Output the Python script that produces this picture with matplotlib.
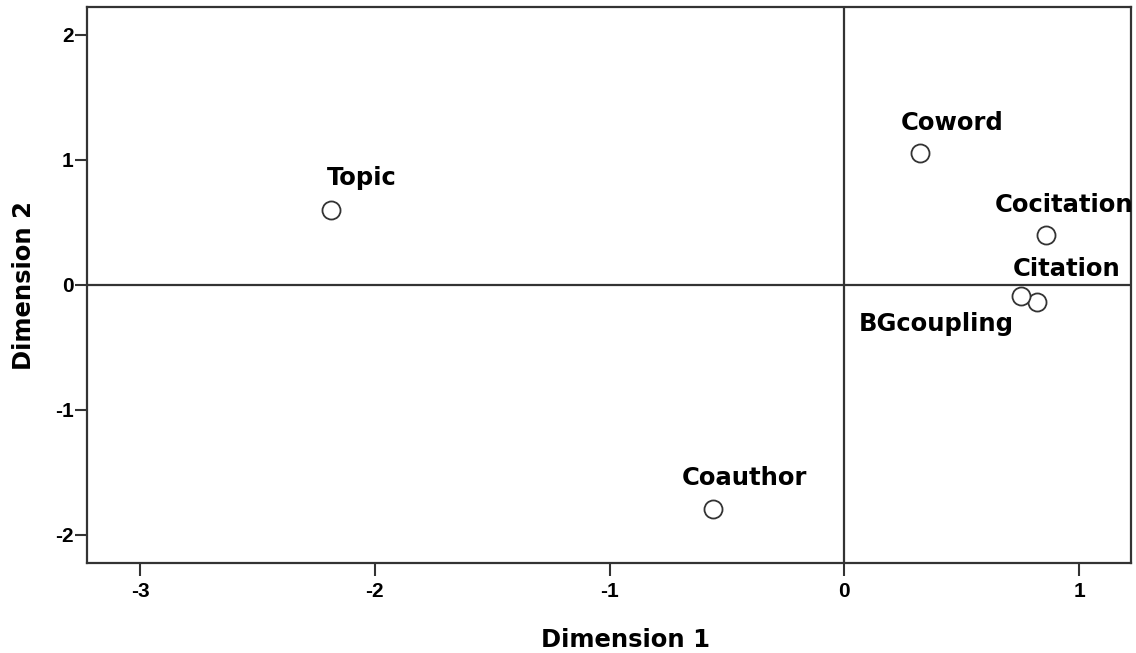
import matplotlib
matplotlib.use("Agg")
import matplotlib.pyplot as plt
from matplotlib import font_manager

# ===============================================================
# ДАННЫЕ

names = ["Topic", "Coword", "Cocitation", "Citation", "BGcoupling", "Coauthor"]
dim1 = [-2.187, 0.322, 0.858, 0.821, 0.753, -0.560]
dim2 = [0.600, 1.051, 0.400, -0.141, -0.093, -1.794]

x_ticks = [-3, -2, -1, 0, 1]
y_ticks = [-2, -1, 0, 1, 2]

# смещения подписей относительно точек (в пунктах)
label_offsets = [(22, 18), (23, 16.5), (13, 16.5), (21.5, 19), (-61, -25), (23, 17)]

# ===============================================================
# ШРИФТЫ

plt.rcParams["axes.unicode_minus"] = False  # обычный дефис, как в SPSS

installed = {f.name for f in font_manager.fontManager.ttflist}
if "Liberation Sans Narrow" in installed:
    tick_family = "Liberation Sans Narrow"
elif "Liberation Sans" in installed:
    tick_family = "Liberation Sans"
else:
    tick_family = "DejaVu Sans"
tick_size = 15

frame_color = "#333333"

# ===============================================================
# РИСУНОК

fig = plt.figure(figsize=(11.36, 6.53), dpi=100)
ax = fig.add_axes([0.0769, 0.1383, 0.9187, 0.8505])

# опорные линии через ноль
ax.axhline(0, color=frame_color, linewidth=1.6, zorder=1)
ax.axvline(0, color=frame_color, linewidth=1.6, zorder=1)

ax.plot(dim1, dim2, linestyle="none", marker="o", markersize=13,
        markerfacecolor="white", markeredgecolor="#333333", markeredgewidth=1.3, zorder=3)

for name, x, y, off in zip(names, dim1, dim2, label_offsets):
    ax.annotate(name, (x, y), xytext=off, textcoords="offset points",
                ha="center", va="baseline", fontsize=17.5, fontweight="bold",
                family="DejaVu Sans", color="black", annotation_clip=False)

ax.set_xlim(-3.224, 1.221)
ax.set_ylim(-2.224, 2.219)
ax.set_xticks(x_ticks)
ax.set_yticks(y_ticks)

for spine in ax.spines.values():
    spine.set_color(frame_color)
    spine.set_linewidth(1.6)

ax.tick_params(direction="out", length=9, width=1.5, color=frame_color)
ax.tick_params(axis="x", pad=5)
ax.tick_params(axis="y", pad=1)
for lab in ax.get_xticklabels() + ax.get_yticklabels():
    lab.set_family(tick_family)
    lab.set_fontsize(tick_size)
    lab.set_fontweight("bold")

ax.set_xlabel("Dimension 1", fontsize=17.5, fontweight="bold", va="baseline")
ax.xaxis.set_label_coords(0.5157, -0.1518)
ax.set_ylabel("Dimension 2", fontsize=17.5, fontweight="bold", va="center")
ax.yaxis.set_label_coords(-0.0611, 0.5)

fig.savefig("out.png", dpi=100, facecolor="white")
